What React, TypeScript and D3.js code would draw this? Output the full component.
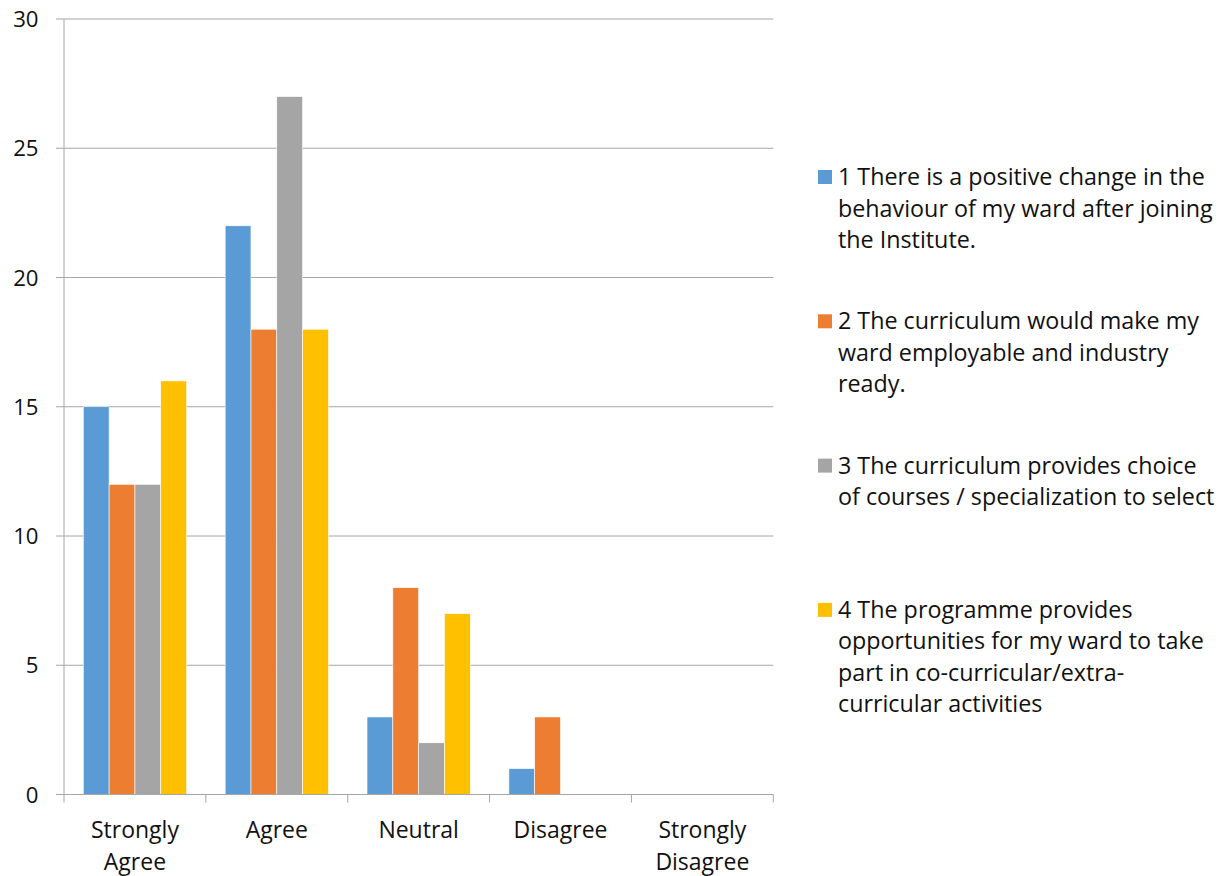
import React from "react";
import * as d3 from "d3";

const categories = ["Strongly Agree", "Agree", "Neutral", "Disagree", "Strongly Disagree"];
const categoryLines = [["Strongly", "Agree"], ["Agree"], ["Neutral"], ["Disagree"], ["Strongly", "Disagree"]];
const seriesNames = ["s1", "s2", "s3", "s4"];
const series1 = [15, 22, 3, 1, 0];
const series2 = [12, 18, 8, 3, 0];
const series3 = [12, 27, 2, 0, 0];
const series4 = [16, 18, 7, 0, 0];
const seriesValues = [series1, series2, series3, series4];
const seriesColors = ["#5B9BD5", "#ED7D31", "#A5A5A5", "#FFC000"];
const legendLines = [
  ["1 There is a positive change in the", "behaviour of my ward after joining", "the Institute."],
  ["2 The curriculum would make my", "ward employable and industry", "ready."],
  ["3 The curriculum provides choice", "of courses / specialization to select"],
  ["4 The programme provides", "opportunities for my ward to take", "part in co-curricular/extra-", "curricular activities"],
];
const yTicks = [0, 5, 10, 15, 20, 25, 30];

const W = 1223;
const H = 876;
const FONT = "'Open Sans', Lato, sans-serif";

export default function App() {
  const x = d3.scaleBand<string>().domain(categories).range([64, 773.3]).padding(0);
  const bw = x.bandwidth();
  const pad = bw * 0.136;
  const x1 = d3.scaleBand<string>().domain(seriesNames).range([pad, bw - pad]).padding(0);
  const y = d3.scaleLinear().domain([0, 30]).range([794.5, 19]);
  const grid = "#A6A6A6";
  const bandEdges = [...categories.map((c) => x(c)!), x.range()[1]];

  return (
    <svg width={W} height={H} style={{ position: "absolute", left: 0, top: 0, display: "block", background: "#fff" }} fontFamily={FONT}>
      {yTicks.map((t) => (
        <g key={t}>
          {t > 0 && <line x1={64} x2={773.3} y1={y(t)} y2={y(t)} stroke={grid} strokeWidth={1} />}
          <line x1={56} x2={64} y1={y(t)} y2={y(t)} stroke={grid} strokeWidth={1} />
          <text x={38.5} y={y(t) + 8} textAnchor="end" fontSize={22.2} fill="#111">
            {t}
          </text>
        </g>
      ))}
      {categories.map((c, ci) => (
        <g key={c} transform={`translate(${x(c)},0)`}>
          {seriesNames.map((s, si) => {
            const v = seriesValues[si][ci];
            if (v <= 0) return null;
            return (
              <rect
                key={s}
                x={x1(s)!}
                y={y(v)}
                width={x1.bandwidth()}
                height={y(0) - y(v)}
                fill={seriesColors[si]}
                stroke="#fff"
                strokeWidth={0.6}
              />
            );
          })}
        </g>
      ))}
      <line x1={64} x2={64} y1={y(30)} y2={y(0)} stroke={grid} strokeWidth={1} />
      <line x1={56} x2={773.3} y1={y(0)} y2={y(0)} stroke={grid} strokeWidth={1} />
      {bandEdges.map((e, i) => (
        <line key={i} x1={e} x2={e} y1={y(0)} y2={y(0) + 8} stroke={grid} strokeWidth={1} />
      ))}
      {categories.map((c, ci) => (
        <text key={c} textAnchor="middle" fontSize={23} fill="#111">
          {categoryLines[ci].map((ln, li) => (
            <tspan key={li} x={x(c)! + bw / 2} y={838 + li * 31.7}>
              {ln}
            </tspan>
          ))}
        </text>
      ))}
      {legendLines.map((lines, i) => {
        const base = 185 + i * 144.3;
        return (
          <g key={i}>
            <rect x={818} y={base - 15} width={14} height={14} fill={seriesColors[i]} />
            <text fontSize={23.3} fill="#111">
              {lines.map((ln, li) => (
                <tspan key={li} x={838} y={base + li * 31.5}>
                  {ln}
                </tspan>
              ))}
            </text>
          </g>
        );
      })}
    </svg>
  );
}
